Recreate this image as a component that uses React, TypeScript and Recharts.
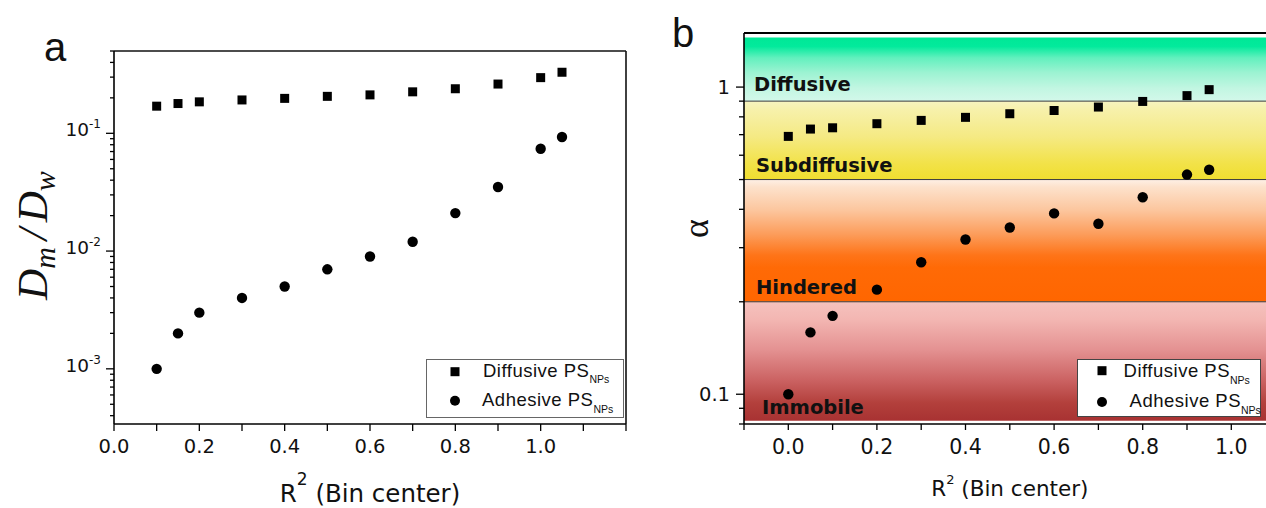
import React from 'react';
import { ScatterChart, Scatter, XAxis, YAxis, ReferenceArea, ReferenceLine, Legend } from 'recharts';

// ---------------- data ----------------
const leftR2 = [0.1, 0.15, 0.2, 0.3, 0.4, 0.5, 0.6, 0.7, 0.8, 0.9, 1.0, 1.05];
const leftDiffusiveRatio = [0.170, 0.179, 0.185, 0.192, 0.198, 0.206, 0.212, 0.225, 0.239, 0.262, 0.297, 0.330];
const leftAdhesiveRatio = [0.001, 0.002, 0.003, 0.004, 0.005, 0.007, 0.009, 0.012, 0.021, 0.035, 0.074, 0.093];

const rightR2 = [0, 0.05, 0.1, 0.2, 0.3, 0.4, 0.5, 0.6, 0.7, 0.8, 0.9, 0.95];
const rightDiffusiveAlpha = [0.691, 0.730, 0.737, 0.760, 0.779, 0.797, 0.819, 0.839, 0.861, 0.898, 0.938, 0.981];
const rightAdhesiveAlpha = [0.100, 0.159, 0.180, 0.219, 0.269, 0.319, 0.349, 0.388, 0.359, 0.438, 0.519, 0.538];

const leftXTicks = [0, 0.1, 0.2, 0.3, 0.4, 0.5, 0.6, 0.7, 0.8, 0.9, 1.0, 1.1, 1.2];
const leftXLabelled = [0, 0.2, 0.4, 0.6, 0.8, 1.0];
const leftYTicks = [
  0.0004, 0.0005, 0.0006, 0.0007, 0.0008, 0.0009,
  0.001, 0.002, 0.003, 0.004, 0.005, 0.006, 0.007, 0.008, 0.009,
  0.01, 0.02, 0.03, 0.04, 0.05, 0.06, 0.07, 0.08, 0.09,
  0.1, 0.2, 0.3, 0.4, 0.5,
];
const leftYLabelled = [0.001, 0.01, 0.1];
const leftYExponents = ['-3', '-2', '-1'];

const rightXTicks = [-0.1, 0, 0.1, 0.2, 0.3, 0.4, 0.5, 0.6, 0.7, 0.8, 0.9, 1.0, 1.1];
const rightXLabelled = [0, 0.2, 0.4, 0.6, 0.8, 1.0];
const rightYTicks = [0.08, 0.09, 0.1, 0.2, 0.3, 0.4, 0.5, 0.6, 0.7, 0.8, 0.9, 1];
const rightYLabelled = [0.1, 1];
const rightYLabels = ['0.1', '1'];

const regimeNames = ['Diffusive', 'Subdiffusive', 'Hindered', 'Immobile'];
const regimeUpper = [1.45, 0.9, 0.5, 0.2];
const regimeLower = [0.9, 0.5, 0.2, 0.082];
const regimeBoundaries = [0.9, 0.5, 0.2];

const seriesNames = ['Diffusive PS', 'Adhesive PS'];
const seriesSubscript = 'NPs';

// ---------------- styles ----------------
const regimeGradients: [number, string][][] = [
  [[0, '#00e896'], [0.14, '#02ea9c'], [0.32, '#62f0be'], [0.55, '#9cf3d2'], [0.8, '#c2f6e2'], [1, '#d3f8ea']],
  [[0, '#f7f4c0'], [0.1, '#f7f1ac'], [0.45, '#f5ea84'], [0.8, '#f2e248'], [1, '#f0de30']],
  [[0, '#fef0e6'], [0.06, '#fde2cc'], [0.25, '#fcc69e'], [0.45, '#fc9c5a'], [0.62, '#fe7418'], [0.72, '#ff6a06'], [1, '#ff6600']],
  [[0, '#f5c2be'], [0.15, '#f3b6b2'], [0.4, '#e49292'], [0.65, '#cc6464'], [0.85, '#b3403c'], [1, '#a83232']],
];
const regimeLabelDx = [10, 12, 12, 18];
const regimeLabelDy = [10, 8, 8, 6.5];

const tickFont = 'DejaVu Sans, Verdana, sans-serif';
const legendFont = 'Liberation Sans, Arial, sans-serif';

const indexIn = (list: number[], v: number) =>
  list.findIndex((m) => Math.abs(m - v) <= Math.abs(m) * 1e-6 + 1e-9);

// ---------------- ticks ----------------
function LeftXTick(props: any) {
  const { x, y, payload } = props;
  const i = indexIn(leftXLabelled, payload.value);
  return (
    <g>
      <line x1={x} x2={x} y1={y} y2={y + 7} stroke="#000" strokeWidth={1.3} />
      {i >= 0 && (
        <text x={x} y={y + 28.5} textAnchor="middle" fontFamily={tickFont} fontSize={19.5} fill="#111">
          {leftXLabelled[i].toFixed(1)}
        </text>
      )}
    </g>
  );
}

function LeftYTick(props: any) {
  const { x, y, payload } = props;
  const i = indexIn(leftYLabelled, payload.value);
  const len = i >= 0 ? 8 : 4;
  return (
    <g>
      <line x1={x - len} x2={x} y1={y} y2={y} stroke="#000" strokeWidth={1.3} />
      {i >= 0 && (
        <text x={x - 13} y={y + 3} textAnchor="end" fontFamily={tickFont} fontSize={18.5} fill="#111">
          10
          <tspan dy={-8} fontSize={12}>
            {leftYExponents[i]}
          </tspan>
        </text>
      )}
    </g>
  );
}

function RightXTick(props: any) {
  const { x, y, payload } = props;
  const i = indexIn(rightXLabelled, payload.value);
  return (
    <g>
      <line x1={x} x2={x} y1={y} y2={y + 6} stroke="#000" strokeWidth={1.3} />
      {i >= 0 && (
        <text x={x} y={y + 29.5} textAnchor="middle" fontFamily={tickFont} fontSize={20.5} fill="#111">
          {rightXLabelled[i].toFixed(1)}
        </text>
      )}
    </g>
  );
}

function RightYTick(props: any) {
  const { x, y, payload } = props;
  const i = indexIn(rightYLabelled, payload.value);
  const len = i >= 0 ? 8 : 5;
  return (
    <g>
      <line x1={x - len} x2={x} y1={y} y2={y} stroke="#000" strokeWidth={1.3} />
      {i >= 0 && (
        <text x={x - 14} y={y + 7} textAnchor="end" fontFamily={tickFont} fontSize={19.5} fill="#111">
          {rightYLabels[i]}
        </text>
      )}
    </g>
  );
}

// ---------------- titles ----------------
function LeftYTitle(props: any) {
  const vb = props.viewBox;
  const cx = vb.x + 47;
  const cy = vb.y + vb.height / 2 - 2;
  return (
    <text
      x={cx}
      y={cy}
      transform={`rotate(-90 ${cx} ${cy})`}
      textAnchor="middle"
      fontFamily="Liberation Serif, Times New Roman, serif"
      fontStyle="italic"
      fontSize={43}
      fill="#111"
    >
      D
      <tspan fontSize={30} dy={8}>m</tspan>
      <tspan dy={-8} dx={7}>/</tspan>
      <tspan dx={6}>D</tspan>
      <tspan fontSize={30} dy={8}>w</tspan>
    </text>
  );
}

function RightYTitle(props: any) {
  const vb = props.viewBox;
  const cx = vb.x + 68;
  const cy = vb.y + vb.height / 2;
  return (
    <text
      x={cx}
      y={cy}
      transform={`rotate(-90 ${cx} ${cy})`}
      textAnchor="middle"
      fontFamily="Liberation Serif, Times New Roman, serif"
      fontSize={36}
      fill="#111"
    >
      α
    </text>
  );
}

function makeXTitle(fontSize: number, supSize: number, supDy: number, baseline: number) {
  return (props: any) => {
    const vb = props.viewBox;
    return (
      <text
        x={vb.x + vb.width / 2}
        y={vb.y + baseline}
        textAnchor="middle"
        fontFamily={tickFont}
        fontSize={fontSize}
        fill="#111"
      >
        R
        <tspan fontSize={supSize} dy={supDy}>2</tspan>
        <tspan fontSize={fontSize} dy={-supDy}>{'\u00a0(Bin center)'}</tspan>
      </text>
    );
  };
}
const LeftXTitle = makeXTitle(24.5, 17, -17, 78);
const RightXTitle = makeXTitle(21.5, 13, -12, 72);

function makeRegimeLabel(i: number) {
  return (props: any) => {
    const vb = props.viewBox;
    if (!vb) return null;
    return (
      <text
        x={vb.x + regimeLabelDx[i]}
        y={vb.y + vb.height - regimeLabelDy[i]}
        fontFamily={tickFont}
        fontWeight="bold"
        fontSize={19.5}
        fill="#111"
      >
        {regimeNames[i]}
      </text>
    );
  };
}

// ---------------- markers ----------------
const SquareMark = (props: any) => {
  const { cx, cy } = props;
  return <rect x={cx - 4.5} y={cy - 4.5} width={9} height={9} fill="#000" />;
};
const CircleMark = (props: any) => {
  const { cx, cy } = props;
  return <circle cx={cx} cy={cy} r={5.2} fill="#000" />;
};

// ---------------- legends ----------------
type LegendLayout = {
  w: number;
  h: number;
  rows: { mx: number; my: number; tx: number; ty: number; subDy: number }[];
};
const leftLegendLayout: LegendLayout = {
  w: 198,
  h: 59,
  rows: [
    { mx: 29, my: 12.7, tx: 57, ty: 18.3, subDy: 6 },
    { mx: 29, my: 41.7, tx: 56, ty: 47, subDy: 7 },
  ],
};
const rightLegendLayout: LegendLayout = {
  w: 184,
  h: 58,
  rows: [
    { mx: 25, my: 11.7, tx: 46.6, ty: 18, subDy: 7 },
    { mx: 25, my: 43, tx: 52.6, ty: 48, subDy: 7 },
  ],
};

function renderLegend(layout: LegendLayout, stroke: string) {
  return () => (
    <svg width={layout.w} height={layout.h} style={{ display: 'block' }}>
      <rect x={0.5} y={0.5} width={layout.w - 1} height={layout.h - 1} fill="#fff" stroke={stroke} strokeWidth={1} />
      {layout.rows.map((r, i) => (
        <g key={i}>
          {i === 0 ? (
            <rect x={r.mx - 4.5} y={r.my - 4.5} width={9} height={9} fill="#000" />
          ) : (
            <circle cx={r.mx} cy={r.my} r={5} fill="#000" />
          )}
          <text x={r.tx} y={r.ty} fontFamily={legendFont} fontSize={18.5} letterSpacing={0.5} fill="#111">
            {seriesNames[i]}
            <tspan fontSize={10.5} letterSpacing={0} dy={r.subDy}>
              {seriesSubscript}
            </tspan>
          </text>
        </g>
      ))}
    </svg>
  );
}

export default function App() {
  const leftDiff = leftR2.map((x, i) => ({ x, y: leftDiffusiveRatio[i] }));
  const leftAdh = leftR2.map((x, i) => ({ x, y: leftAdhesiveRatio[i] }));
  const rightDiff = rightR2.map((x, i) => ({ x, y: rightDiffusiveAlpha[i] }));
  const rightAdh = rightR2.map((x, i) => ({ x, y: rightAdhesiveAlpha[i] }));

  return (
    <div
      style={{
        position: 'absolute',
        left: 0,
        top: 0,
        width: 1266,
        height: 508,
        overflow: 'hidden',
        background: '#fff',
      }}
    >
      {/* ---------- panel a ---------- */}
      <div style={{ position: 'absolute', left: 0, top: 0 }}>
        <ScatterChart width={640} height={508} margin={{ top: 51, right: 14, bottom: 24, left: 0 }}>
          <XAxis
            type="number"
            dataKey="x"
            domain={[0, 1.2]}
            ticks={leftXTicks}
            interval={0}
            allowDataOverflow
            height={60}
            tickSize={0}
            tickMargin={0}
            tickLine={false}
            tick={LeftXTick}
            axisLine={{ stroke: '#000', strokeWidth: 1.6 }}
            label={LeftXTitle}
          />
          <YAxis
            type="number"
            dataKey="y"
            scale="log"
            domain={[0.00034, 0.5]}
            ticks={leftYTicks}
            interval={0}
            allowDataOverflow
            width={114}
            tickSize={0}
            tickMargin={0}
            tickLine={false}
            tick={LeftYTick}
            axisLine={{ stroke: '#000', strokeWidth: 1.6 }}
            label={LeftYTitle}
          />
          <ReferenceLine y={0.5} stroke="#111" strokeWidth={1.6} />
          <ReferenceLine x={1.2} stroke="#111" strokeWidth={1.6} />
          <Scatter name={seriesNames[0]} data={leftDiff} fill="#000" shape={SquareMark} isAnimationActive={false} />
          <Scatter name={seriesNames[1]} data={leftAdh} fill="#000" shape={CircleMark} isAnimationActive={false} />
          <Legend
            layout="horizontal"
            align="center"
            verticalAlign="middle"
            content={renderLegend(leftLegendLayout, '#666')}
            wrapperStyle={{ left: 426, top: 359, width: 198, height: 59 }}
          />
        </ScatterChart>
      </div>

      {/* ---------- panel b ---------- */}
      <div style={{ position: 'absolute', left: 640, top: 0 }}>
        <ScatterChart width={660} height={508} margin={{ top: 33, right: 24.4, bottom: 24, left: 0 }}>
          <defs>
            {regimeGradients.map((stops, gi) => (
              <linearGradient key={gi} id={`regime-grad-${gi}`} x1="0" y1="0" x2="0" y2="1">
                {stops.map(([o, c], si) => (
                  <stop key={si} offset={o} stopColor={c} />
                ))}
              </linearGradient>
            ))}
          </defs>
          <XAxis
            type="number"
            dataKey="x"
            domain={[-0.1, 1.1]}
            ticks={rightXTicks}
            interval={0}
            allowDataOverflow
            height={60}
            tickSize={0}
            tickMargin={0}
            tickLine={false}
            tick={RightXTick}
            axisLine={{ stroke: '#000', strokeWidth: 1.6 }}
            label={RightXTitle}
          />
          <YAxis
            type="number"
            dataKey="y"
            scale="log"
            domain={[0.08, 1.5]}
            ticks={rightYTicks}
            interval={0}
            allowDataOverflow
            width={104}
            tickSize={0}
            tickMargin={0}
            tickLine={false}
            tick={RightYTick}
            axisLine={{ stroke: '#000', strokeWidth: 1.6 }}
            label={RightYTitle}
          />
          {regimeNames.map((name, i) => (
            <ReferenceArea
              key={name}
              y1={regimeLower[i]}
              y2={regimeUpper[i]}
              fill={`url(#regime-grad-${i})`}
              fillOpacity={1}
              stroke="none"
              label={makeRegimeLabel(i)}
            />
          ))}
          {regimeBoundaries.map((b) => (
            <ReferenceLine key={b} y={b} stroke="#3a3a3a" strokeWidth={1} />
          ))}
          <ReferenceLine y={1.5} stroke="#000" strokeWidth={2.2} />
          <Scatter name={seriesNames[0]} data={rightDiff} fill="#000" shape={SquareMark} isAnimationActive={false} />
          <Scatter name={seriesNames[1]} data={rightAdh} fill="#000" shape={CircleMark} isAnimationActive={false} />
          <Legend
            layout="horizontal"
            align="center"
            verticalAlign="middle"
            content={renderLegend(rightLegendLayout, '#444')}
            wrapperStyle={{ left: 437, top: 359, width: 184, height: 58 }}
          />
        </ScatterChart>
      </div>

      {/* panel letters */}
      <svg width={1266} height={508} style={{ position: 'absolute', left: 0, top: 0, pointerEvents: 'none' }}>
        <text x={44} y={60.5} fontFamily={legendFont} fontSize={40} fill="#111">
          a
        </text>
        <text x={672} y={46.5} fontFamily={legendFont} fontSize={40} fill="#111">
          b
        </text>
      </svg>
    </div>
  );
}
